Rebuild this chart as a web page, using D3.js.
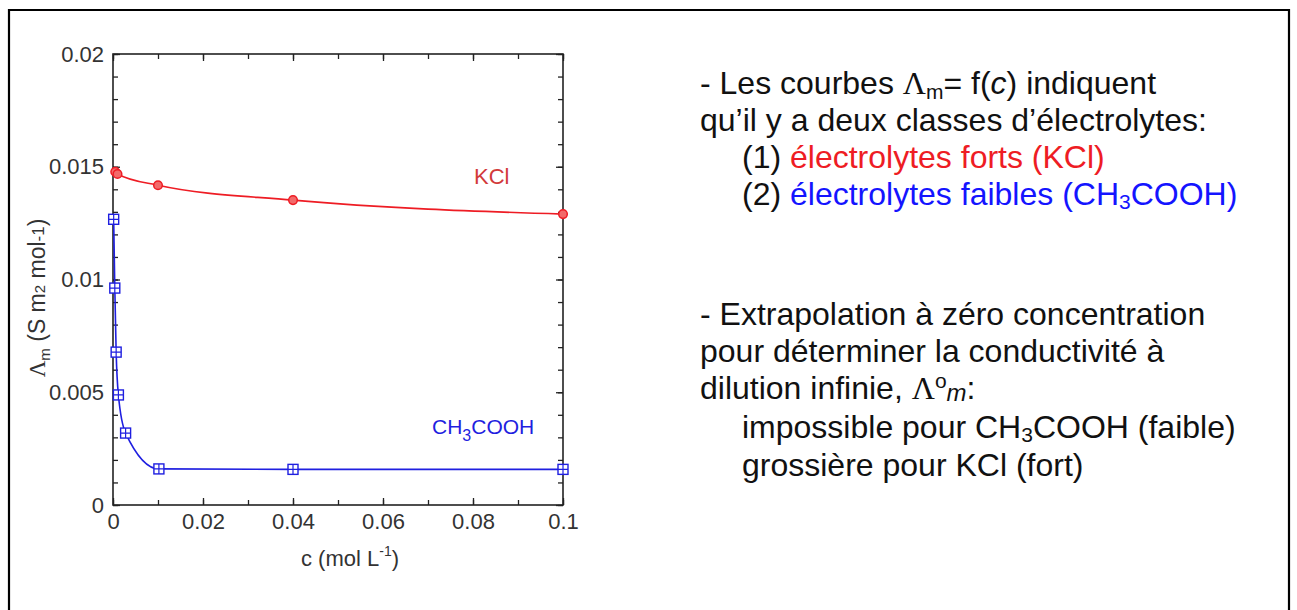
<!DOCTYPE html>
<html>
<head>
<meta charset="utf-8">
<script src="https://cdn.jsdelivr.net/npm/d3@7"></script>
<style>
  body { margin: 0; background: #fff; }
  svg { display: block; font-family: "Liberation Sans", Arial, sans-serif; }
</style>
</head>
<body>
<div id="viz"></div>
<script>
// data
var kclC = [0.0005, 0.001, 0.01, 0.04, 0.1];
var kclL = [0.01478, 0.01468, 0.01418, 0.01352, 0.01290];
var acC = [0.00015, 0.0004, 0.0007, 0.0012, 0.0028, 0.0102, 0.04, 0.1];
var acL = [0.01267, 0.00962, 0.00678, 0.00488, 0.00319, 0.00160, 0.00158, 0.00158];
var xTicks = [0, 0.02, 0.04, 0.06, 0.08, 0.1];
var yTicks = [0, 0.005, 0.01, 0.015, 0.02];

var W = 1297, H = 610;
var pL = 113, pR = 563, pT = 54, pB = 505;
var red = '#ee1c24', blue = '#1f1fe0';

var svg = d3.select('#viz').append('svg')
  .attr('width', W).attr('height', H);

svg.append('rect').attr('width', W).attr('height', H).attr('fill', '#fff');

// frame of the slide
svg.append('path')
  .attr('d', 'M9,' + (H + 5) + 'V10H1289V' + (H + 5))
  .attr('fill', 'none').attr('stroke', '#000').attr('stroke-width', 2.2);

var x = d3.scaleLinear().domain([0, 0.1]).range([pL, pR]);
var y = d3.scaleLinear().domain([0, 0.02]).range([pB, pT]);

var fmt = function(d) { return d === 0 ? '0' : String(+d.toFixed(3)); };

function styleAxis(g) {
  g.select('.domain').remove();
  g.selectAll('line').attr('stroke', '#222').attr('stroke-width', 1.3);
  g.selectAll('text').attr('fill', '#333').style('font-size', '22px')
    .style('font-family', '"Liberation Sans", Arial, sans-serif');
}

// minor ticks first
svg.append('g').attr('transform', 'translate(0,' + pB + ')')
  .call(d3.axisBottom(x).tickValues(d3.range(0, 0.1001, 0.01)).tickSize(-5).tickFormat(''))
  .call(styleAxis);
svg.append('g').attr('transform', 'translate(0,' + pT + ')')
  .call(d3.axisTop(x).tickValues(d3.range(0, 0.1001, 0.01)).tickSize(-5).tickFormat(''))
  .call(styleAxis);
svg.append('g').attr('transform', 'translate(' + pL + ',0)')
  .call(d3.axisLeft(y).tickValues(d3.range(0, 0.02001, 0.001)).tickSize(-5).tickFormat(''))
  .call(styleAxis);
svg.append('g').attr('transform', 'translate(' + pR + ',0)')
  .call(d3.axisRight(y).tickValues(d3.range(0, 0.02001, 0.001)).tickSize(-5).tickFormat(''))
  .call(styleAxis);

// major ticks
svg.append('g').attr('transform', 'translate(0,' + pB + ')')
  .call(d3.axisBottom(x).tickValues(xTicks).tickSize(-7).tickPadding(8).tickFormat(fmt))
  .call(styleAxis);
svg.append('g').attr('transform', 'translate(0,' + pT + ')')
  .call(d3.axisTop(x).tickValues(xTicks).tickSize(-7).tickFormat(''))
  .call(styleAxis);
svg.append('g').attr('transform', 'translate(' + pL + ',0)')
  .call(d3.axisLeft(y).tickValues(yTicks).tickSize(-7).tickPadding(9).tickFormat(fmt))
  .call(styleAxis);
svg.append('g').attr('transform', 'translate(' + pR + ',0)')
  .call(d3.axisRight(y).tickValues(yTicks).tickSize(-7).tickFormat(''))
  .call(styleAxis);

svg.append('rect')
  .attr('x', pL).attr('y', pT)
  .attr('width', pR - pL).attr('height', pB - pT)
  .attr('fill', 'none').attr('stroke', '#222').attr('stroke-width', 1.6);

// axis titles
var xt = svg.append('text').attr('x', 350).attr('y', 566)
  .attr('text-anchor', 'middle').attr('fill', '#333').style('font-size', '22px');
xt.append('tspan').text('c (mol L');
xt.append('tspan').attr('dy', -10).style('font-size', '14px').text('-1');
xt.append('tspan').attr('dy', 10).text(')');

var yt = svg.append('text')
  .attr('transform', 'translate(45,298) rotate(-90)')
  .attr('text-anchor', 'middle').attr('fill', '#333').style('font-size', '23px');
yt.append('tspan').style('font-family', '"Liberation Serif", serif').text('Λ');
yt.append('tspan').attr('dy', 5).style('font-size', '15px').text('m');
yt.append('tspan').attr('dy', -5).text('  (S m');
yt.append('tspan').style('font-size', '15px').text('2');
yt.append('tspan').text(' mol');
yt.append('tspan').attr('dy', -1).style('font-size', '17px').text('-1');
yt.append('tspan').attr('dy', 1).text(')');

// curves
var line = d3.line().x(d => x(d[0])).y(d => y(d[1])).curve(d3.curveMonotoneX);

svg.append('path')
  .datum(d3.zip(kclC, kclL))
  .attr('d', line)
  .attr('fill', 'none').attr('stroke', red).attr('stroke-width', 1.6);

svg.append('path')
  .datum(d3.zip(acC, acL))
  .attr('d', line)
  .attr('fill', 'none').attr('stroke', blue).attr('stroke-width', 1.6);

// markers
svg.selectAll('.kcl').data(d3.zip(kclC, kclL)).enter()
  .append('circle').attr('class', 'kcl')
  .attr('cx', d => x(d[0])).attr('cy', d => y(d[1])).attr('r', 4.3)
  .attr('fill', '#f26a6a').attr('stroke', red).attr('stroke-width', 1.5);

var s = 10;
var sq = svg.selectAll('.ac').data(d3.zip(acC, acL)).enter()
  .append('g').attr('class', 'ac')
  .attr('transform', d => 'translate(' + x(d[0]) + ',' + y(d[1]) + ')');
sq.append('rect').attr('x', -s / 2).attr('y', -s / 2).attr('width', s).attr('height', s)
  .attr('fill', '#fff').attr('stroke', blue).attr('stroke-width', 1.4);
sq.append('path').attr('d', 'M' + (-s / 2) + ',0H' + (s / 2) + 'M0,' + (-s / 2) + 'V' + (s / 2))
  .attr('stroke', blue).attr('stroke-width', 1.2);

// in-plot labels
svg.append('text').attr('x', 474).attr('y', 184).attr('fill', '#d23a3a')
  .style('font-size', '22px').text('KCl');
var lab = svg.append('text').attr('x', 432).attr('y', 434).attr('fill', blue)
  .style('font-size', '21px');
lab.append('tspan').text('CH');
lab.append('tspan').attr('dy', 7).style('font-size', '16px').text('3');
lab.append('tspan').attr('dy', -7).text('COOH');

// commentary on the right
var fs = 32;
function txt(xp, yp) {
  return svg.append('text').attr('x', xp).attr('y', yp).attr('fill', '#111')
    .style('font-size', fs + 'px');
}
var serif = '"Liberation Serif", serif';

var t1 = txt(700, 94);
t1.append('tspan').text('- Les courbes ');
t1.append('tspan').style('font-family', serif).text('Λ');
t1.append('tspan').attr('dy', 5).style('font-size', '21px').text('m');
t1.append('tspan').attr('dy', -5).text('= f(');
t1.append('tspan').style('font-style', 'italic').text('c');
t1.append('tspan').text(') indiquent');

txt(700, 131).text('qu\u2019il y a deux classes d\u2019électrolytes:');

var t3 = txt(742, 168);
t3.append('tspan').text('(1) ');
t3.append('tspan').attr('fill', red).text('électrolytes forts (KCl)');

var t4 = txt(742, 205);
t4.append('tspan').text('(2) ');
t4.append('tspan').attr('fill', '#1414ff').text('électrolytes faibles (CH');
t4.append('tspan').attr('fill', '#1414ff').attr('dy', 4).style('font-size', '21px').text('3');
t4.append('tspan').attr('fill', '#1414ff').attr('dy', -4).text('COOH)');

txt(700, 325).text('- Extrapolation à zéro concentration');
txt(700, 362).text('pour déterminer la conductivité à');

var t7 = txt(700, 399);
t7.append('tspan').text('dilution infinie, ');
t7.append('tspan').style('font-family', serif).text('Λ');
t7.append('tspan').attr('dy', -11).style('font-size', '21px').text('o');
t7.append('tspan').attr('dy', 13).style('font-size', '24px').style('font-style', 'italic').text('m');
t7.append('tspan').attr('dy', -2).text(':');

var t8 = txt(742, 438);
t8.append('tspan').text('impossible pour CH');
t8.append('tspan').attr('dy', 4).style('font-size', '21px').text('3');
t8.append('tspan').attr('dy', -4).text('COOH (faible)');

txt(742, 476).text('grossière pour KCl (fort)');
</script>
</body>
</html>
